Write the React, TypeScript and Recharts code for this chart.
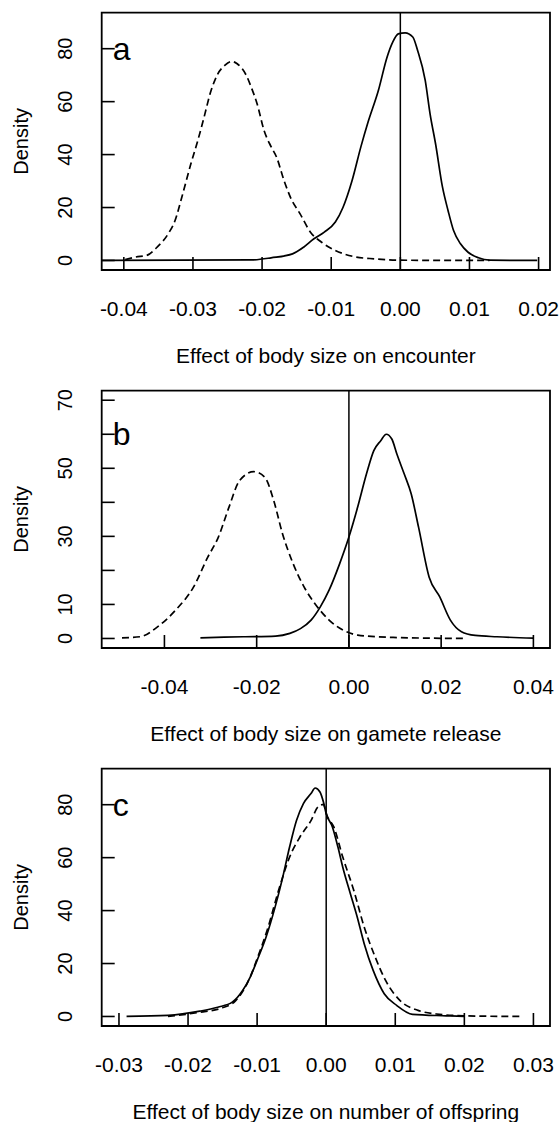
import React from 'react';
import { LineChart, Line, XAxis, YAxis, ReferenceLine, ReferenceArea, ReferenceDot } from 'recharts';

// ---------- Panel a ----------
const aSolidX = [-0.0432, -0.0215, -0.0187, -0.0156, -0.014, -0.0125, -0.011, -0.0094, -0.0083, -0.007, -0.0057, -0.0047, -0.0032, -0.0019, -0.0011, -0.0003, 0.0007, 0.0018, 0.0025, 0.0036, 0.0043, 0.0051, 0.0061, 0.0069, 0.0077, 0.0087, 0.0098, 0.0113, 0.0129, 0.0198];
const aSolidY = [0, 0.2, 1, 2.5, 5, 8.2, 10.7, 14.5, 20, 30, 43, 52, 64, 77, 82.5, 85.6, 86, 84.4, 79.3, 68, 55.4, 44, 27.7, 18.9, 11.3, 6.3, 3.1, 1, 0.1, 0];
const aDashX = [-0.0398, -0.0383, -0.0367, -0.0352, -0.0336, -0.0326, -0.0316, -0.0303, -0.0293, -0.0285, -0.0274, -0.0264, -0.0254, -0.0244, -0.0236, -0.0223, -0.0215, -0.0207, -0.0197, -0.0187, -0.0179, -0.0168, -0.0158, -0.0145, -0.013, -0.0114, -0.0094, -0.0068, -0.0037, 0, 0.0129];
const aDashY = [0.3, 1.3, 1.9, 5, 10, 15, 24, 36.5, 45.3, 53, 64, 70.5, 73.7, 75.2, 74.3, 70, 65, 59, 49, 43, 39, 30, 23.3, 17.6, 10.7, 6.9, 3.8, 1.5, 0.6, 0.1, 0];
const aXTicks = [-0.04, -0.03, -0.02, -0.01, 0, 0.01, 0.02];
const aXLabels = ['-0.04', '-0.03', '-0.02', '-0.01', '0.00', '0.01', '0.02'];
const aYTicks = [0, 20, 40, 60, 80];
const aYLabels = ['0', '20', '40', '60', '80'];
const aXDomain = [-0.0432, 0.02165];
const aYDomain = [-3.6, 93.6];
const aTitle = 'Effect of body size on encounter';

// ---------- Panel b ----------
const bSolidX = [-0.0322, -0.0229, -0.0159, -0.0128, -0.0105, -0.0082, -0.0062, -0.0043, -0.002, 0, 0.0019, 0.0038, 0.0054, 0.0069, 0.0081, 0.0093, 0.0104, 0.012, 0.0135, 0.0151, 0.0174, 0.0197, 0.022, 0.0244, 0.0274, 0.0321, 0.04];
const bSolidY = [0.2, 0.5, 0.7, 1.5, 2.9, 5.4, 9.3, 14.2, 22, 29.8, 38.6, 48.3, 55.2, 58.1, 60, 58.6, 54.2, 48.3, 42.5, 32.7, 18, 12.2, 5.4, 2, 0.9, 0.5, 0.1];
const bDashX = [-0.0492, -0.0453, -0.0415, -0.0376, -0.0337, -0.0306, -0.0283, -0.026, -0.0237, -0.0206, -0.0182, -0.0163, -0.0144, -0.0121, -0.0097, -0.0074, -0.0043, -0.0012, 0.0019, 0.0096, 0.0251];
const bDashY = [0.2, 0.5, 3.4, 8.3, 15.1, 23.9, 29.8, 38.6, 46.4, 49, 47.3, 40.5, 30.8, 22, 15.1, 10.3, 5.4, 2.4, 1, 0.3, 0];
const bXTicks = [-0.04, -0.02, 0, 0.02, 0.04];
const bXLabels = ['-0.04', '-0.02', '0.00', '0.02', '0.04'];
const bYTicks = [0, 10, 20, 30, 40, 50, 60, 70];
const bYLabels = ['0', '10', '', '30', '', '50', '', '70'];
const bXDomain = [-0.0536, 0.0436];
const bYDomain = [-2.8, 72.8];
const bTitle = 'Effect of body size on gamete release';

// ---------- Panel c ----------
const cSolidX = [-0.0289, -0.0229, -0.0183, -0.0157, -0.0136, -0.0121, -0.011, -0.01, -0.0087, -0.0074, -0.0064, -0.0053, -0.0043, -0.0033, -0.0022, -0.0016, -0.0009, -0.0004, 0, 0.0009, 0.0017, 0.0024, 0.0035, 0.0045, 0.0055, 0.0068, 0.0084, 0.0102, 0.0125, 0.0174, 0.02];
const cSolidY = [0, 0.4, 2, 3.5, 5.4, 9.8, 14.9, 21.2, 30, 41.3, 51.4, 64, 74, 80.4, 84.2, 86.3, 84.8, 81, 76.6, 71.6, 64, 56.4, 46.4, 37.5, 27.5, 17.4, 8.6, 4.2, 0.8, 0.25, 0];
const cDashX = [-0.0229, -0.0183, -0.0152, -0.0131, -0.011, -0.01, -0.0084, -0.0069, -0.0053, -0.0038, -0.0022, -0.0012, -0.0004, 0.0001, 0.0011, 0.0024, 0.004, 0.0055, 0.0071, 0.0086, 0.0107, 0.0133, 0.0164, 0.02, 0.0283];
const cDashY = [0, 1.6, 3.1, 6, 14.9, 21.8, 33.8, 47.6, 60.2, 67.8, 74, 79.1, 80.1, 76, 71.6, 60.2, 47.6, 33.8, 22.4, 13.6, 6, 2.3, 0.8, 0.25, 0];
const cXTicks = [-0.03, -0.02, -0.01, 0, 0.01, 0.02, 0.03];
const cXLabels = ['-0.03', '-0.02', '-0.01', '0.00', '0.01', '0.02', '0.03'];
const cYTicks = [0, 20, 40, 60, 80];
const cYLabels = ['0', '20', '40', '60', '80'];
const cXDomain = [-0.0325, 0.0324];
const cYDomain = [-3.6, 93.6];
const cTitle = 'Effect of body size on number of offspring';

const zip = (xs: number[], ys: number[]) => xs.map((x, i) => ({ x, y: ys[i] }));

const FONT = '"Liberation Sans", Arial, sans-serif';
const TICK_LEN = 13;

const makeXTick = (ticks: number[], labels: string[]) => (props: any) => {
  const { x, y, payload } = props;
  const i = ticks.findIndex((t) => Math.abs(t - payload.value) < 1e-9);
  return (
    <g>
      <line x1={x} x2={x} y1={y} y2={y - TICK_LEN} stroke="#000" strokeWidth={1.6} />
      <text x={x} y={y + 38} textAnchor="middle" dominantBaseline="central" fontSize={21} fill="#000" fontFamily={FONT}>
        {i >= 0 ? labels[i] : ''}
      </text>
    </g>
  );
};

const makeYTick = (ticks: number[], labels: string[]) => (props: any) => {
  const { x, y, payload } = props;
  const i = ticks.findIndex((t) => Math.abs(t - payload.value) < 1e-9);
  const lx = x - 37;
  return (
    <g>
      <line x1={x} x2={x + TICK_LEN} y1={y} y2={y} stroke="#000" strokeWidth={1.6} />
      <text x={lx} y={y} transform={`rotate(-90 ${lx} ${y})`} textAnchor="middle" dominantBaseline="central" fontSize={20} fill="#000" fontFamily={FONT}>
        {i >= 0 ? labels[i] : ''}
      </text>
    </g>
  );
};

const densityLabel = (props: any) => {
  const vb = props.viewBox || {};
  const cy = vb.y + vb.height / 2;
  const cx = 21;
  return (
    <text x={cx} y={cy} transform={`rotate(-90 ${cx} ${cy})`} textAnchor="middle" dominantBaseline="central" fontSize={20} fill="#000" fontFamily={FONT}>
      Density
    </text>
  );
};

type PanelProps = {
  top: number;
  solid: { x: number; y: number }[];
  dash: { x: number; y: number }[];
  xTicks: number[];
  xLabels: string[];
  yTicks: number[];
  yLabels: string[];
  xDomain: number[];
  yDomain: number[];
  title: string;
  letter: string;
  letterY: number;
};

const Panel = (p: PanelProps) => (
  <div style={{ position: 'absolute', left: 0, top: p.top }}>
    <LineChart width={560} height={378} margin={{ top: 12.7, right: 10, bottom: 0, left: 0 }}>
      <XAxis
        type="number"
        dataKey="x"
        domain={p.xDomain}
        allowDataOverflow
        ticks={p.xTicks}
        interval={0}
        height={108}
        tickSize={0}
        tickMargin={0}
        axisLine={false}
        tickLine={false}
        tick={makeXTick(p.xTicks, p.xLabels)}
        label={{ value: p.title, position: 'insideBottom', offset: 15, fontSize: 21, fill: '#000', fontFamily: FONT }}
      />
      <YAxis
        type="number"
        dataKey="y"
        domain={p.yDomain}
        allowDataOverflow
        ticks={p.yTicks}
        interval={0}
        width={101.7}
        tickSize={0}
        tickMargin={0}
        axisLine={false}
        tickLine={false}
        tick={makeYTick(p.yTicks, p.yLabels)}
        label={densityLabel}
      />
      <ReferenceArea
        x1={p.xDomain[0]}
        x2={p.xDomain[1]}
        y1={p.yDomain[0]}
        y2={p.yDomain[1]}
        fill="none"
        fillOpacity={0}
        stroke="#000"
        strokeWidth={1.8}
        ifOverflow="visible"
      />
      <ReferenceLine x={0} stroke="#000" strokeWidth={1.5} ifOverflow="visible" />
      <Line data={p.dash} dataKey="y" type="monotoneX" stroke="#000" strokeWidth={1.7} strokeDasharray="7 4" dot={false} activeDot={false} isAnimationActive={false} />
      <Line data={p.solid} dataKey="y" type="monotoneX" stroke="#000" strokeWidth={1.7} dot={false} activeDot={false} isAnimationActive={false} />
      <ReferenceDot
        x={p.xDomain[0]}
        y={p.letterY}
        r={0}
        ifOverflow="visible"
        shape={(s: any) => (
          <text x={s.cx + 11} y={s.cy} textAnchor="start" dominantBaseline="central" fontSize={32} fill="#000" fontFamily={FONT}>
            {p.letter}
          </text>
        )}
      />
    </LineChart>
  </div>
);

export default function App() {
  return (
    <div style={{ position: 'absolute', left: 0, top: 0, width: 560, height: 1122, overflow: 'hidden', background: '#fff', fontFamily: FONT }}>
      <Panel top={0} solid={zip(aSolidX, aSolidY)} dash={zip(aDashX, aDashY)} xTicks={aXTicks} xLabels={aXLabels} yTicks={aYTicks} yLabels={aYLabels} xDomain={aXDomain} yDomain={aYDomain} title={aTitle} letter="a" letterY={80} />
      <Panel top={378} solid={zip(bSolidX, bSolidY)} dash={zip(bDashX, bDashY)} xTicks={bXTicks} xLabels={bXLabels} yTicks={bYTicks} yLabels={bYLabels} xDomain={bXDomain} yDomain={bYDomain} title={bTitle} letter="b" letterY={60} />
      <Panel top={756} solid={zip(cSolidX, cSolidY)} dash={zip(cDashX, cDashY)} xTicks={cXTicks} xLabels={cXLabels} yTicks={cYTicks} yLabels={cYLabels} xDomain={cXDomain} yDomain={cYDomain} title={cTitle} letter="c" letterY={80} />
    </div>
  );
}
